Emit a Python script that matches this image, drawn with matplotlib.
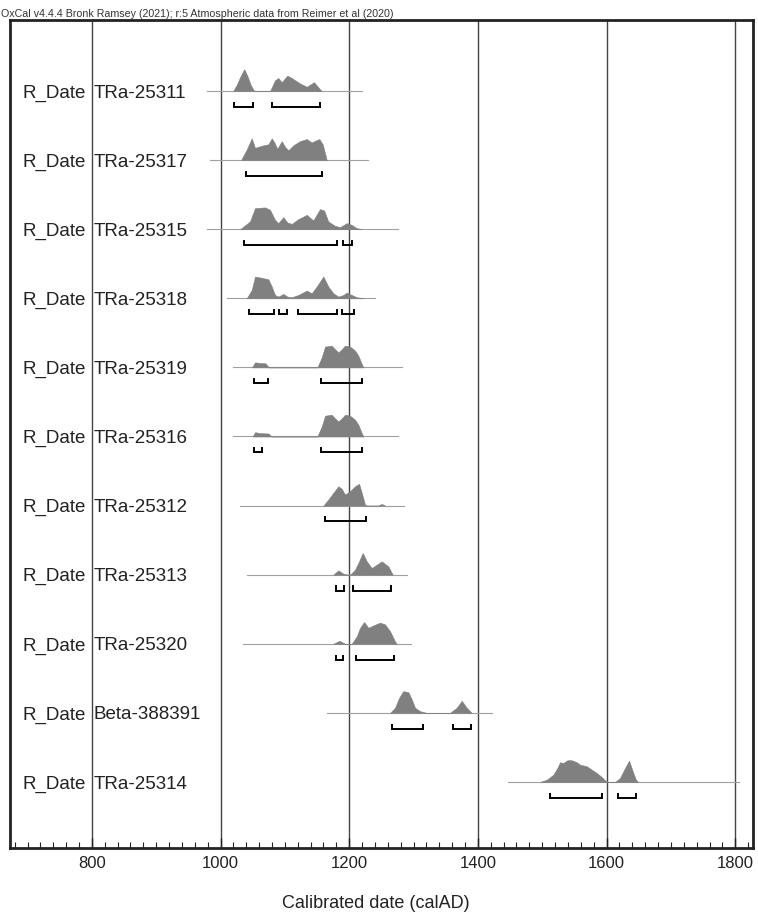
import numpy as np
import matplotlib
matplotlib.use("Agg")
import matplotlib.pyplot as plt
from matplotlib.ticker import MultipleLocator
from matplotlib.transforms import blended_transform_factory

plt.rcParams['font.family'] = ['Liberation Sans', 'DejaVu Sans']

title = "OxCal v4.4.4 Bronk Ramsey (2021); r:5 Atmospheric data from Reimer et al (2020)"

names = ["TRa-25311", "TRa-25317", "TRa-25315", "TRa-25318", "TRa-25319", "TRa-25316",
         "TRa-25312", "TRa-25313", "TRa-25320", "Beta-388391", "TRa-25314"]

# extent of the thin baseline under each distribution (calAD)
line_start = [979, 984, 979, 1010, 1020, 1020, 1031, 1041, 1035, 1165, 1447]
line_end = [1220, 1229, 1276, 1240, 1282, 1276, 1285, 1290, 1296, 1422, 1806]

# probability distributions (years, relative height)
dist_years = [
    [1019.7, 1025, 1031, 1036.8, 1042, 1047, 1052.3, 1077, 1084.7, 1089.8, 1095, 1103.8,
     1110.7, 1123.6, 1134, 1145.3, 1154.6, 1157.3],
    [1031.9, 1040.7, 1048.5, 1053.6, 1066.5, 1074.3, 1079.6, 1083.2, 1088.3, 1095.1, 1100.2,
     1105.4, 1113.1, 1123.6, 1134, 1141.7, 1146.9, 1153.6, 1158.8, 1165.1],
    [1030.3, 1045.8, 1053.6, 1069.2, 1076.9, 1084.7, 1089.8, 1097.6, 1103.8, 1110.7, 1120.9,
     1134, 1144.2, 1154.6, 1160.9, 1167.5, 1178, 1185.7, 1196.1, 1203.9, 1211.7, 1219.5],
    [1040.7, 1048.5, 1053.6, 1061.4, 1074.3, 1079.6, 1084.7, 1089.8, 1097.6, 1103.8, 1110.7,
     1120.9, 1134, 1141.7, 1149.5, 1159.8, 1167.5, 1175.3, 1183.1, 1190.9, 1196.1, 1203.9,
     1211.7, 1222],
    [1049, 1053.6, 1061.4, 1070, 1075, 1150.5, 1157.3, 1162.4, 1172.8, 1178, 1183.1, 1188.4,
     1193.5, 1201.3, 1209.1, 1214.2, 1219.5, 1222],
    [1050, 1053.6, 1061.4, 1074.3, 1079.6, 1150.5, 1157.3, 1162.4, 1172.8, 1178, 1183.1,
     1188.4, 1193.5, 1201.3, 1209.1, 1214.2, 1219.5, 1222],
    [1159.8, 1167.5, 1175.3, 1183.1, 1188.4, 1193.5, 1201.3, 1209.1, 1215.3, 1219.5, 1224.6,
     1227.2, 1245.3, 1250.5, 1255.7],
    [1175.3, 1183.1, 1190.9, 1198.7, 1201.3, 1209.1, 1214.2, 1221, 1227.3, 1235, 1250.5,
     1260.8, 1267.6],
    [1175.3, 1184.7, 1193.5, 1203.9, 1211.7, 1216.9, 1223.1, 1229.8, 1237.5, 1247.9, 1255.7,
     1263.5, 1271.2, 1273.9],
    [1263.5, 1271.2, 1277.9, 1284.1, 1291.9, 1297.1, 1302.3, 1310, 1320.5, 1356.7, 1367.1,
     1374.9, 1382.6, 1390.4],
    [1496.6, 1507, 1517.3, 1523.5, 1527.7, 1532.8, 1539.1, 1545.9, 1553.6, 1558.8, 1569.2,
     1577, 1584.7, 1592.5, 1597.6, 1602.7, 1613.1, 1620.9, 1628.7, 1634.9, 1641.6, 1645.8,
     1649.4],
]
dist_prob = [
    [0, 6, 15, 22.3, 15, 6, 0, 0, 11, 13.3, 9, 15.7, 13.3, 7.7, 4.3, 9, 1.7, 0],
    [0, 10, 20.7, 11.7, 14, 15, 20.7, 17.3, 10.7, 18, 12.7, 9.3, 14, 18, 20, 16.7, 18.3, 20, 15, 0],
    [0, 7.7, 21, 21.7, 19.3, 9.3, 6, 12, 6.7, 5.3, 10, 14.3, 8.7, 20, 18.7, 7.7, 3.3, 2, 6, 4.3, 1, 0],
    [0, 8.3, 21.7, 20.7, 19, 11.7, 3.3, 1.7, 4.3, 1.7, 1, 3.3, 7.7, 5, 11.7, 21.7, 11.7, 5,
     1.7, 3.3, 5.7, 3.3, 1, 0],
    [0, 5, 4.5, 4, 0, 0, 10, 20.7, 21.7, 18, 15, 18, 21.7, 20.7, 16.7, 11.7, 3.3, 0],
    [0, 4.3, 3.3, 3, 0, 0, 10, 20.7, 21.7, 18, 15, 18, 21.7, 20.7, 16.7, 11.7, 3.3, 0],
    [0, 6, 12.7, 19.3, 16.7, 11, 14.3, 19.3, 21.7, 12.7, 1, 0, 0, 1.7, 0],
    [0, 4.3, 1, 0, 0, 5, 11.7, 21.7, 13.3, 6.7, 13.3, 8.3, 0],
    [0, 3, 0, 0, 7.3, 15.7, 21.3, 15.7, 18, 20.7, 19, 12.3, 2.3, 0],
    [0, 5, 15, 21, 20, 13.3, 5, 1.7, 0, 0, 5, 11.7, 5, 0],
    [0, 2.3, 7.3, 14, 19.7, 19, 21.7, 21.7, 19.7, 17.3, 15.7, 12.3, 9, 5, 1.7, 0, 0, 4, 14,
     21.3, 9, 2, 0],
]

# 95.4% ranges shown as brackets
ranges = [
    [(1021, 1051), (1080, 1155)],
    [(1039.6, 1158)],
    [(1037, 1180.6), (1190.9, 1204.9)],
    [(1044.8, 1083.2), (1091.4, 1103.8), (1120.9, 1180.6), (1188.4, 1207.5)],
    [(1052, 1074.3), (1155.7, 1220.4)],
    [(1052, 1065), (1155.7, 1220.4)],
    [(1162.4, 1225.7)],
    [(1179.5, 1192), (1205.5, 1265)],
    [(1179.5, 1189.9), (1210.1, 1270.1)],
    [(1266.1, 1315.2), (1360.9, 1388.9)],
    [(1512.7, 1592.5), (1618.3, 1645.3)],
]

fig = plt.figure(figsize=(7.58, 9.15), dpi=100)
ax = fig.add_axes([10 / 758, 67 / 915, 743 / 758, 828 / 915])

n = len(names)
peak_h = 0.315
br_off = 0.23
br_up = 0.06

for x in range(800, 1801, 200):
    ax.axvline(x, color='#444444', lw=1.0, zorder=1)

lab_tr = blended_transform_factory(ax.transAxes, ax.transData)
for i in range(n):
    ax.plot([line_start[i], line_end[i]], [i, i], color='#a0a0a0', lw=0.8, zorder=2)
    p = np.array(dist_prob[i], dtype=float)
    p = p / p.max() * peak_h
    ax.fill_between(dist_years[i], i, i - p, color='#808080', lw=0.4, edgecolor='#808080', zorder=3)
    yb = i + br_off
    for a, b in ranges[i]:
        ax.plot([a, a, b, b], [yb - br_up, yb, yb, yb - br_up], color='black', lw=1.4,
                solid_joinstyle='miter', zorder=4)
    ax.text(0.0165, i + 0.095, "R_Date", transform=lab_tr, fontsize=13.5,
            va='baseline', ha='left', color='#222222', zorder=5)
    ax.text(0.113, i + 0.095, names[i], transform=lab_tr, fontsize=13.5,
            va='baseline', ha='left', color='#222222', zorder=5)

ax.set_xlim(672.8, 1827.6)
ax.set_ylim(10.955, -1.027)
ax.set_yticks([])
ax.xaxis.set_major_locator(MultipleLocator(200))
ax.xaxis.set_minor_locator(MultipleLocator(20))
ax.tick_params(axis='x', which='major', direction='in', length=7, width=1.0, labelsize=12,
               pad=6, colors='#222222')
ax.tick_params(axis='x', which='minor', direction='in', length=4, width=0.8, colors='#222222')
for s in ax.spines.values():
    s.set_linewidth(2.0)
    s.set_color('#222222')
ax.set_xlabel("Calibrated date (calAD)", fontsize=13, color='#222222')
ax.xaxis.set_label_coords(0.493, -0.057)

fig.text(0.001, 1 - 17 / 915, title, fontsize=7.7, ha='left', va='baseline', color='#333333')

fig.savefig("out.png", dpi=100)
